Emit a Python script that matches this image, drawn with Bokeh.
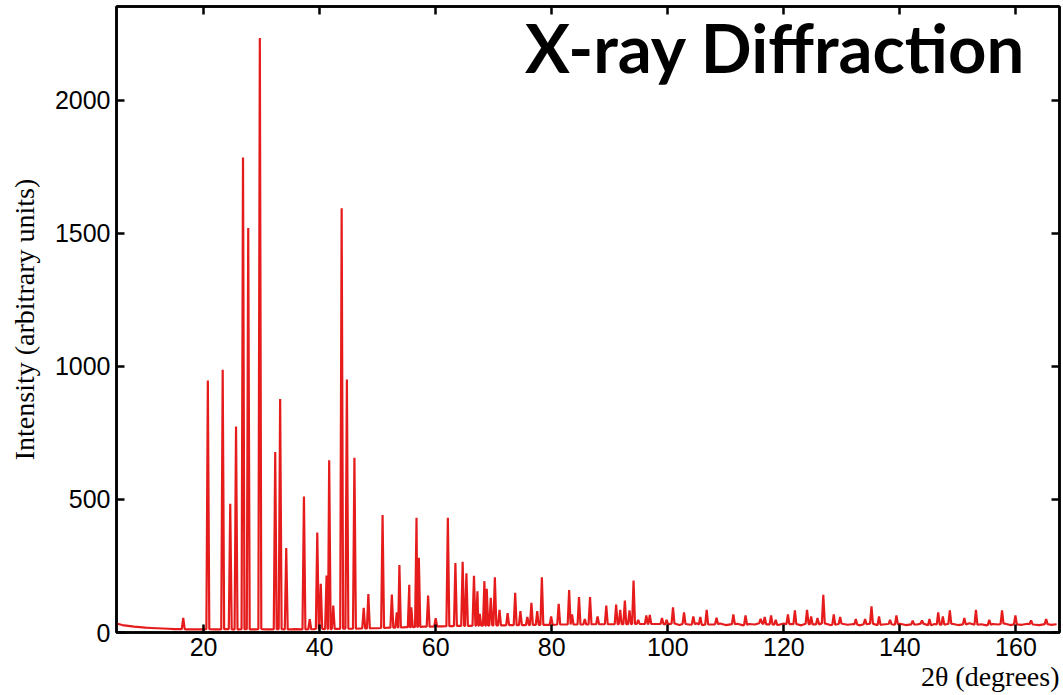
import numpy as np
from bokeh.plotting import figure
from bokeh.models import Range1d, LinearAxis, FixedTicker, Label, Title
from bokeh.embed import file_html
from bokeh.resources import INLINE

# ---- data ----
peak_pos = [16.5, 20.74, 23.3, 24.6, 25.6, 26.8, 27.7, 29.7, 32.35, 33.2, 34.25,
            37.3, 38.3, 39.6, 40.2, 41.2, 41.65, 42.35, 43.8, 44.7, 46.0, 47.6,
            48.4, 50.85, 52.45, 53.3, 53.75, 55.45, 55.8, 56.7, 57.1, 58.7, 60.0,
            62.1, 63.4, 64.65, 65.3, 66.6, 67.2, 67.6, 68.4, 68.8, 69.5, 70.2,
            71.0, 72.4, 73.7, 74.6, 75.8, 76.5, 77.5, 78.3, 79.9, 81.2, 83.0,
            83.5, 84.7, 85.7, 86.6, 87.9, 89.4, 91.1, 91.8, 92.6, 93.4, 94.1,
            94.9, 96.3, 96.9, 99.0, 99.8, 100.9, 102.8, 104.4, 105.6, 106.7,
            108.4, 111.3, 113.4, 116.0, 116.7, 117.8, 118.6, 120.7, 121.9, 124.0,
            124.7, 125.8, 126.8, 128.6, 129.7, 132.4, 134.0, 135.1, 136.4, 138.3,
            139.4, 142.2, 143.8, 145.1, 146.6, 147.4, 148.6, 151.1, 153.1, 155.4,
            157.6, 159.9, 162.6, 165.2]
peak_int = [55, 947, 988, 484, 774, 1785, 1520, 2235, 678, 878, 318,
            511, 50, 376, 183, 214, 647, 101, 1595, 951, 657, 93,
            145, 442, 143, 76, 254, 179, 95, 431, 281, 139, 54,
            431, 261, 266, 223, 213, 155, 70, 193, 164, 130, 208,
            85, 73, 149, 80, 58, 112, 80, 208, 60, 108, 160,
            68, 133, 51, 133, 60, 101, 105, 85, 120, 83, 195,
            48, 64, 66, 54, 48, 95, 76, 60, 58, 85,
            55, 68, 64, 51, 58, 64, 48, 68, 83, 85,
            60, 55, 142, 68, 58, 51, 51, 98, 60, 48,
            64, 45, 45, 51, 76, 60, 83, 55, 85, 48,
            83, 64, 45, 51]

bg_pos = list(range(5, 168))
bg_int = [34, 28, 25, 22, 20, 18, 17, 16, 15, 14, 13, 13, 12, 12, 12,
          12, 13, 12, 12, 13, 12, 12, 13, 12, 12, 13, 12, 12, 13, 12,
          12, 13, 12, 12, 13, 14, 13, 13, 14, 14, 15, 14, 15, 15, 16,
          16, 17, 18, 18, 19, 20, 20, 21, 22, 22, 23, 23, 24, 24, 25,
          25, 25, 26, 26, 26, 27, 27, 27, 28, 28, 28, 28, 29, 29, 29,
          29, 30, 30, 30, 30, 30, 30, 31, 31, 31, 31, 31, 31, 31, 32,
          32, 32, 32, 32, 32,
          30, 34, 28, 33, 29, 35, 27, 32, 30, 34, 28, 31, 33, 27, 32,
          30, 35, 29, 31, 28, 34, 30, 32, 27, 33, 29, 31, 35, 28, 30,
          33, 29, 32, 27, 31, 34, 28, 30, 32, 29, 33, 28, 31, 30, 34,
          27, 32, 29, 31, 33, 28, 30, 35, 29, 31, 27, 32, 30, 34, 28,
          31, 29, 33, 30, 28, 32, 29, 31]

x_ticks = [20, 40, 60, 80, 100, 120, 140, 160]
y_ticks = [0, 500, 1000, 1500, 2000]

# ---- build the diffraction profile from peaks + background ----
HW = 0.25
pk = np.array(peak_pos)
xs, ys = [], []
for x, b in zip(bg_pos, bg_int):
    if np.min(np.abs(pk - x)) > HW + 0.05:
        xs.append(x); ys.append(b)
for x, h in zip(peak_pos, peak_int):
    b = float(np.interp(x, bg_pos, bg_int))
    xs += [x - HW, x, x + HW]
    ys += [b, h, b]
order = np.argsort(np.array(xs), kind="stable")
xs = np.array(xs)[order]
ys = np.array(ys)[order]

p = figure(width=1063, height=695, output_backend="svg", toolbar_location=None,
           x_range=Range1d(5, 167.5), y_range=Range1d(0, 2353),
           min_border_left=116, min_border_right=4, min_border_top=6,
           min_border_bottom=63)
p.background_fill_color = "white"
p.border_fill_color = "white"
p.grid.visible = False
p.outline_line_color = "black"
p.outline_line_width = 2.5
p.outline_line_alpha = 1.0

p.line(xs, ys, line_color="#e61c1c", line_width=2.2)

p.add_layout(LinearAxis(), "above")
p.add_layout(LinearAxis(), "right")

for ax in p.xaxis:
    ax.ticker = FixedTicker(ticks=x_ticks)
for ax in p.yaxis:
    ax.ticker = FixedTicker(ticks=y_ticks)

for ax in list(p.xaxis) + list(p.yaxis):
    ax.axis_line_width = 2.5
    ax.axis_line_color = "black"
    ax.major_tick_line_width = 2.5
    ax.major_tick_line_color = "black"
    ax.major_tick_in = 8
    ax.major_tick_out = 0
    ax.minor_tick_in = 0
    ax.minor_tick_out = 0
    ax.minor_tick_line_color = None
    ax.major_label_text_font = "Liberation Sans"
    ax.major_label_text_font_size = "25px"
    ax.major_label_text_color = "black"

for ax in p.above + p.right:
    if isinstance(ax, LinearAxis):
        ax.major_label_text_font_size = "0px"
        ax.major_label_text_color = None
        ax.major_label_standoff = 0

p.xaxis[0].major_label_standoff = 7
p.yaxis[0].major_label_standoff = 6
p.yaxis[0].axis_label = "Intensity (arbitrary units)"
p.yaxis[0].axis_label_text_font = "Liberation Serif"
p.yaxis[0].axis_label_text_font_size = "28px"
p.yaxis[0].axis_label_text_font_style = "normal"
p.yaxis[0].axis_label_text_color = "black"
p.yaxis[0].axis_label_standoff = 12

p.add_layout(Title(text="2θ (degrees)", align="right", text_font="Liberation Serif",
                   text_font_size="28px", text_font_style="normal",
                   text_color="black", standoff=0), "below")

p.add_layout(Label(x=161.7, y=2199, text="X-ray Diffraction", text_font="Lato",
                   text_font_style="bold", text_font_size="67px",
                   text_align="right", text_baseline="alphabetic",
                   text_color="black"))

open("out.html", "w").write(file_html(p, INLINE))
